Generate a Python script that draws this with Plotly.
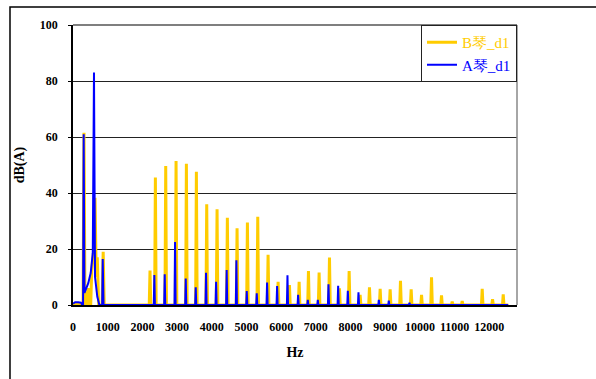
import plotly.graph_objects as go

# ---- data (Hz, dB(A)) ----
# low-frequency detail
b_low_hz = [0, 100, 250, 290, 317, 345, 400, 440, 470, 510, 540, 600, 635, 670, 700, 740, 840, 870, 900]
b_low_db = [0.3, 0.3, 0, 0, 61.5, 0, 0, 6, 0, 0, 12, 20, 38.3, 10, 17, 0, 0, 19, 0]
a_low_hz = [0, 60, 150, 230, 270, 290, 308, 330, 440, 510, 570, 605, 635, 700, 760, 840, 857, 880]
a_low_db = [0.5, 1.0, 1.0, 0.8, 0, 0, 61, 4.3, 7.8, 11.4, 18.5, 83, 10, 3, 0, 0, 16.4, 0]

# harmonic peaks
b_peak_hz = [2220, 2375, 2673, 2971, 3269, 3557, 3855, 4153, 4450, 4730, 5028, 5326, 5624, 5913,
             6240, 6519, 6788, 7095, 7394, 7682, 7961, 8278, 8547, 8855, 9143, 9441, 9749, 10048,
             10336, 10624, 10932, 11220, 11797, 12095, 12403]
b_peak_db = [12.3, 45.5, 49.6, 51.4, 50.4, 47.6, 36, 34.2, 31.2, 27.4, 29.5, 31.5, 17.9, 8.3,
             7.1, 8.3, 12.1, 11.6, 17, 6, 12.1, 3.6, 6.3, 5.8, 5.6, 8.6, 5.6, 3.6,
             9.9, 3.4, 1.2, 1.4, 5.8, 2.1, 3.8]
a_peak_hz = [2345, 2644, 2942, 3250, 3538, 3835, 4125, 4430, 4710, 5009, 5297, 5595, 5884, 6183,
             6490, 6769, 7058, 7365, 7644, 7923, 8230, 8817, 9104, 9700]
a_peak_db = [10.7, 11, 22.5, 9.5, 6.3, 11.5, 8.3, 12.5, 16, 5, 4.2, 8, 6.8, 10.6,
             3.6, 1.8, 1.8, 7.4, 6.9, 5.1, 4.5, 1.8, 1.6, 0.8]
end_hz = 12548
base_db = 0

x_ticks = list(range(0, 13000, 1000))
y_ticks = [0, 20, 40, 60, 80, 100]

YEL = "#FFCC00"
BLU = "#0000FF"


def build(low_hz, low_db, pk_hz, pk_db, half=22):
    xs, ys = list(low_hz), list(low_db)
    for f, d in zip(pk_hz, pk_db):
        xs += [f - half, f, f + half]
        ys += [base_db, d, base_db]
    xs.append(end_hz)
    ys.append(base_db)
    return xs, ys


bx, by = build(b_low_hz, b_low_db, b_peak_hz, b_peak_db)
ax, ay = build(a_low_hz, a_low_db, a_peak_hz, a_peak_db, half=16)

serif = "Liberation Serif"

fig = go.Figure()
fig.add_trace(go.Scatter(x=bx, y=by, mode="lines", line=dict(color=YEL, width=3),
                         name=f"<span style='color:{YEL}'>B琴_d1</span>"))
fig.add_trace(go.Scatter(x=ax, y=ay, mode="lines", line=dict(color=BLU, width=2),
                         name=f"<span style='color:{BLU}'>A琴_d1</span>"))

fig.update_layout(
    width=596, height=379,
    margin=dict(l=73, r=79, t=25, b=74),
    paper_bgcolor="white", plot_bgcolor="white",
    font=dict(family=serif, color="black"),
    showlegend=True,
    legend=dict(x=1.0, y=1.0, xanchor="right", yanchor="top",
                bgcolor="white", bordercolor="#222222", borderwidth=1,
                font=dict(size=15, family=serif), itemwidth=30,
                tracegroupgap=0),
    xaxis=dict(range=[0, 12800], tickvals=x_ticks, ticktext=[str(v) for v in x_ticks],
               showgrid=False, zeroline=False, showline=True, linecolor="black", linewidth=1.5,
               ticks="", tickfont=dict(size=12, family=serif, weight="bold"), ticklabelstandoff=10,
               title=dict(text="<b>Hz</b>", font=dict(size=14, family=serif), standoff=14)),
    yaxis=dict(range=[0, 100], tickvals=y_ticks, ticktext=[str(v) for v in y_ticks],
               showgrid=True, gridcolor="#222222", gridwidth=1, zeroline=False,
               showline=True, linecolor="black", linewidth=1.5,
               ticks="outside", ticklen=3, tickcolor="black", tickwidth=1,
               tickfont=dict(size=12, family=serif, weight="bold"), ticklabelstandoff=8,
               title=dict(text="<b>dB(A)</b>", font=dict(size=14, family=serif), standoff=12)),
    shapes=[
        # right plot border (gray)
        dict(type="line", xref="paper", yref="paper", x0=1, x1=1, y0=0, y1=1,
             line=dict(color="#888888", width=1.5)),
        # top plot border
        dict(type="line", xref="paper", yref="paper", x0=0, x1=1, y0=1, y1=1,
             line=dict(color="#555555", width=1.5)),
        # outer chart frame
        dict(type="rect", xref="paper", yref="paper", x0=-0.1419, x1=1.3, y0=-0.5, y1=1.0643,
             line=dict(color="black", width=1.5), layer="below"),
    ],
)

fig.write_html("out.html")
